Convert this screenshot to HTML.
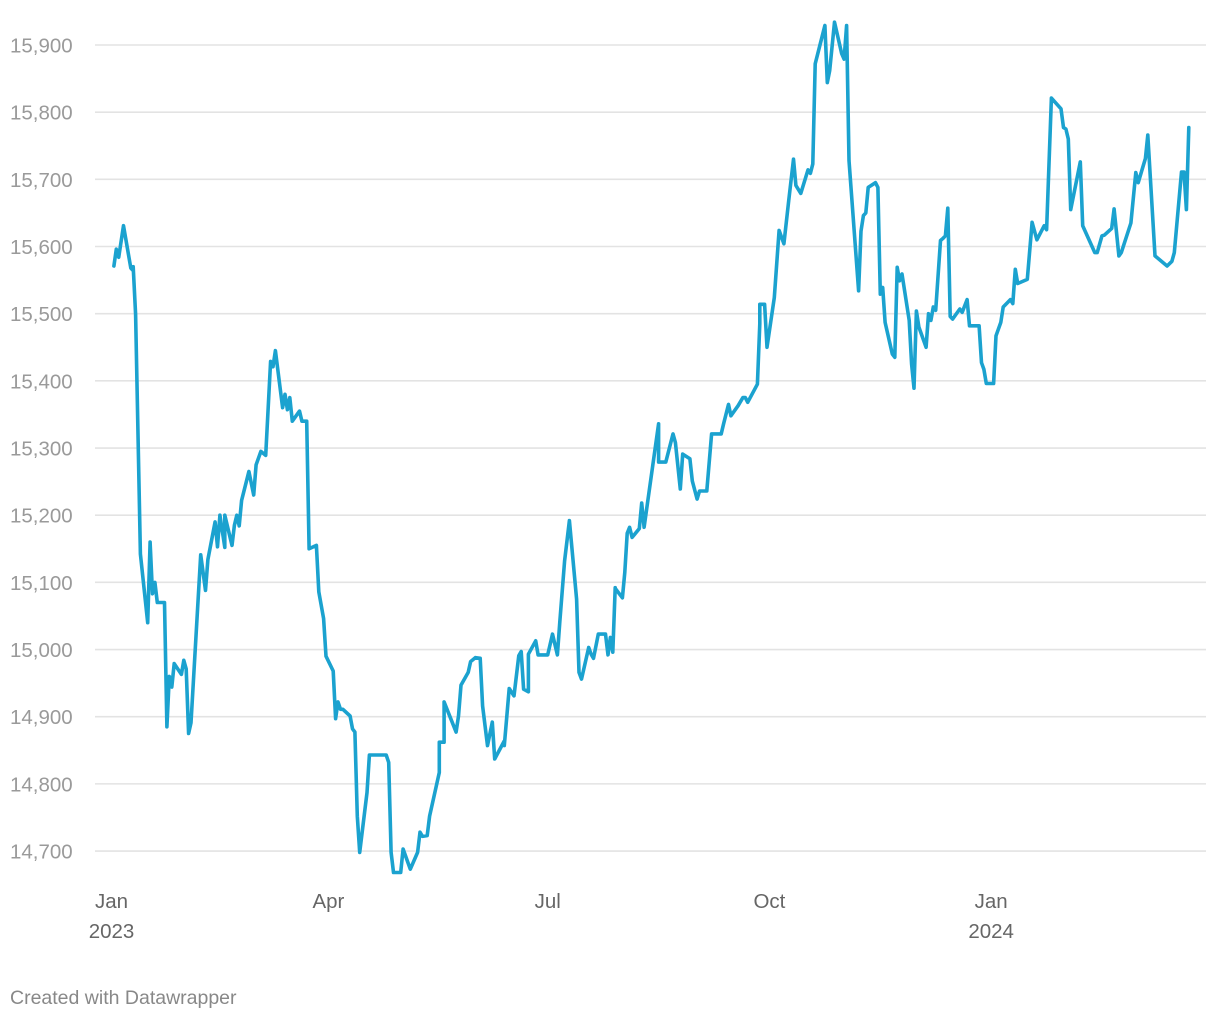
<!DOCTYPE html>
<html><head><meta charset="utf-8">
<style>
html,body{margin:0;padding:0;background:#fff;width:1220px;height:1020px;overflow:hidden}
svg{display:block}
text{font-family:"Liberation Sans",sans-serif}
</style></head>
<body>
<svg id="chart" width="1220" height="1020" viewBox="0 0 1220 1020" xmlns="http://www.w3.org/2000/svg">
<g id="grid"></g>
<g id="ylabels"></g>
<g id="xlabels"></g>
<path id="line" fill="none" stroke="#1ba2cf" stroke-width="3.6" stroke-linejoin="round" stroke-linecap="round"></path>
<text x="10" y="1004" font-size="19.5" fill="#888">Created with Datawrapper</text>
</svg>
<script>
const yTicks = [14700,14800,14900,15000,15100,15200,15300,15400,15500,15600,15700,15800,15900];
const xTickDays = [0,90,181,273,365];
const xTickMonths = ["Jan","Apr","Jul","Oct","Jan"];
const xTickYears = ["2023","","","","2024"];
// days since 2023-01-01
const days = [1,2,3,5,8,9,9,10,12,15,16,17,18,19,22,23,24,25,26,29,30,31,32,33,37,39,40,43,44,45,47,47,50,51,52,53,54,57,59,60,62,64,66,67,68,71,72,73,74,75,78,79,81,82,85,86,88,89,92,93,94,95,96,99,100,101,102,103,106,107,114,115,116,117,120,121,123,124,127,128,129,131,132,136,136,138,138,143,144,145,148,149,151,153,154,156,158,159,163,163,165,167,169,170,171,173,173,176,177,181,183,185,186,188,190,193,194,195,198,199,200,202,205,206,207,208,209,209,212,213,214,215,216,219,220,221,227,227,230,233,234,236,237,240,241,243,244,247,249,253,254,256,257,260,262,263,264,268,269,269,271,272,275,277,279,281,283,284,286,289,290,291,292,296,297,298,300,303,304,305,306,310,311,312,313,314,317,318,319,320,321,324,325,326,327,328,331,332,333,334,335,338,339,340,341,342,344,345,346,347,348,349,352,353,355,356,360,361,362,363,366,367,369,370,373,374,375,376,380,382,384,387,388,390,394,395,396,397,398,402,403,408,409,411,412,415,416,418,419,423,425,426,429,430,433,438,440,441,444,445,446,447];
const values = [15571,15596,15584,15631,15568,15564,15570,15499,15142,15040,15160,15083,15100,15070,15070,14885,14960,14944,14979,14963,14984,14971,14875,14891,15141,15088,15134,15190,15153,15200,15152,15200,15155,15185,15200,15184,15222,15265,15230,15275,15295,15289,15429,15421,15445,15360,15380,15357,15375,15340,15355,15340,15340,15150,15155,15086,15046,14990,14968,14897,14922,14911,14911,14901,14882,14877,14752,14698,14787,14843,14843,14832,14698,14668,14668,14703,14683,14673,14698,14728,14722,14723,14752,14817,14862,14862,14922,14877,14901,14947,14966,14982,14988,14987,14916,14857,14892,14837,14864,14857,14942,14931,14991,14997,14941,14937,14993,15013,14992,14992,15023,14992,15041,15132,15192,15075,14966,14956,15003,14993,14987,15023,15023,14992,15018,14996,15092,15091,15077,15115,15173,15182,15167,15180,15218,15182,15336,15279,15279,15321,15308,15239,15291,15284,15251,15224,15236,15236,15321,15321,15336,15365,15348,15363,15375,15375,15368,15395,15485,15514,15514,15450,15524,15624,15604,15668,15730,15691,15679,15714,15709,15723,15872,15929,15844,15862,15934,15887,15879,15929,15728,15534,15623,15646,15650,15688,15695,15688,15529,15539,15487,15440,15435,15569,15549,15559,15490,15425,15389,15504,15480,15450,15500,15490,15510,15505,15609,15612,15616,15657,15496,15492,15507,15502,15521,15482,15482,15427,15417,15396,15396,15467,15487,15510,15521,15515,15566,15545,15551,15636,15610,15631,15625,15821,15805,15777,15775,15760,15655,15726,15631,15591,15591,15616,15617,15627,15656,15586,15591,15635,15710,15695,15731,15766,15586,15571,15578,15591,15711,15711,15655,15777];

const NS = "http://www.w3.org/2000/svg";
function xScale(d){ return 111.5 + d * 2.41; }
function yScale(v){ return 45 + (15900 - v) * 0.6717; }

const grid = document.getElementById('grid');
const ylab = document.getElementById('ylabels');
yTicks.forEach(function(t){
  const l = document.createElementNS(NS,'line');
  
  
  l.setAttribute('x1', 95); l.setAttribute('x2', 1206);
  l.setAttribute('y1', yScale(t)); l.setAttribute('y2', yScale(t));
  l.setAttribute('stroke', '#e3e3e3'); l.setAttribute('stroke-width', '1.6');
  grid.appendChild(l);
  const tx = document.createElementNS(NS,'text');
  
  
  tx.setAttribute('x', 10); tx.setAttribute('y', yScale(t) + 7.5);
  tx.setAttribute('font-size', '20.5'); tx.setAttribute('fill', '#9a9a9a');
  tx.textContent = t.toLocaleString('en-US');
  ylab.appendChild(tx);
});

const xlab = document.getElementById('xlabels');
xTickDays.forEach(function(d, i){
  const tx = document.createElementNS(NS,'text');
  
  
  tx.setAttribute('x', xScale(d)); tx.setAttribute('y', 908);
  tx.setAttribute('text-anchor', 'middle');
  tx.setAttribute('font-size', '20.5'); tx.setAttribute('fill', '#666');
  tx.textContent = xTickMonths[i];
  xlab.appendChild(tx);
  if (xTickYears[i]) {
    const ty = document.createElementNS(NS,'text');
    
    
    ty.setAttribute('x', xScale(d)); ty.setAttribute('y', 938);
    ty.setAttribute('text-anchor', 'middle');
    ty.setAttribute('font-size', '20.5'); ty.setAttribute('fill', '#666');
    ty.textContent = xTickYears[i];
    xlab.appendChild(ty);
  }
});

let dStr = '';
for (let i = 0; i < days.length; i++) {
  dStr += (i ? 'L' : 'M') + xScale(days[i]).toFixed(1) + ',' + yScale(values[i]).toFixed(1);
}
document.getElementById('line').setAttribute('d', dStr);
</script>
</body></html>
